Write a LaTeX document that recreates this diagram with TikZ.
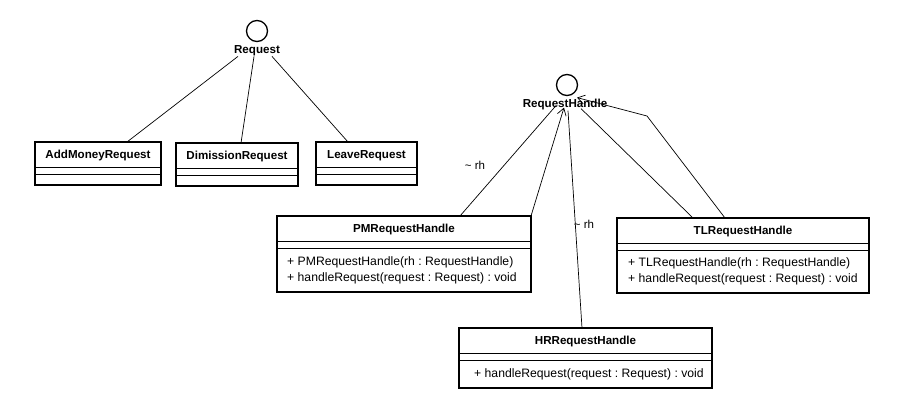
\documentclass[tikz,border=0pt]{standalone}
\usepackage{fontspec}
\setmainfont{Liberation Sans}
\usetikzlibrary{arrows.meta,positioning,calc}
\frenchspacing
\tikzset{
  classbox/.style  = {draw, line width=1.6pt, rectangle, anchor=north west,
                      inner sep=0pt, outer sep=0pt},
  classname/.style = {font=\bfseries\fontsize{11.6}{13}\selectfont, inner sep=0pt},
  member/.style    = {font=\fontsize{12.2}{14}\selectfont, inner sep=0pt, anchor=west},
  divider/.style   = {line width=0.8pt},
  iface/.style     = {draw, line width=1.3pt, circle, inner sep=0pt, minimum size=21pt},
  link/.style      = {line width=0.7pt},
  nav/.style       = {link, -{Straight Barb[length=7pt,width=9pt]}},
  rolelbl/.style   = {font=\fontsize{11.5}{13}\selectfont, inner sep=0pt},
}
% class box: name, north west corner, width, height, title
\newcommand{\umlclass}[5]{%
  \node[classbox, minimum width=#3, minimum height=#4] (#1) at (#2) {};
  \node[classname] (#1-name) at ($(#1.north)+(0,13.5)$) {#5};
  \draw[divider] ($(#1.north west)+(0,25)$) -- ($(#1.north east)+(0,25)$);
  \draw[divider] ($(#1.north west)+(0,32)$) -- ($(#1.north east)+(0,32)$);
}

\begin{document}
\begin{tikzpicture}[x=1pt,y=-1pt]
\path[fill=white,use as bounding box] (0,0) rectangle (898,414);
% ---------- Request interface ----------
\node[iface] (req) at (257,31) {};
\node[classname] (reqlbl) at (257,51) {Request};
\umlclass{amr}{35,142}{126pt}{43pt}{AddMoneyRequest}
\umlclass{dim}{176,143}{122pt}{43pt}{DimissionRequest}
\umlclass{leave}{316,142}{101pt}{43pt}{LeaveRequest}
\draw[link] ([xshift=-19pt]reqlbl.south) -- ([xshift=29pt]amr.north);
\draw[link] ([xshift=-3pt]reqlbl.south) -- ([xshift=4pt]dim.north);
\draw[link] ([xshift=15pt]reqlbl.south) -- ([xshift=-18.5pt]leave.north);
% ---------- RequestHandle interface ----------
\node[iface] (rh) at (567,85) {};
\node[classname] (rhlbl) at (565,105) {RequestHandle};
\umlclass{pm}{277,216}{254pt}{76pt}{PMRequestHandle}
\node[member] (pm-m1) at ($(pm.north west)+(10,46)$) {+ PMRequestHandle(rh : RequestHandle)};
\node[member] (pm-m2) at ($(pm.north west)+(10,62)$) {+ handleRequest(request : Request) : void};
\umlclass{tl}{617,218}{252pt}{75pt}{TLRequestHandle}
\node[member] (tl-m1) at ($(tl.north west)+(11,45)$) {+ TLRequestHandle(rh : RequestHandle)};
\node[member] (tl-m2) at ($(tl.north west)+(11,61)$) {+ handleRequest(request : Request) : void};
\umlclass{hr}{459,328}{253pt}{60pt}{HRRequestHandle}
\node[member] (hr-m1) at ($(hr.north west)+(15,46)$) {+ handleRequest(request : Request) : void};
% links
\coordinate (tlbend) at (647,116);
\draw[link] ([xshift=56pt]pm.north) -- ([xshift=-9pt,yshift=5pt]rhlbl.south);
\draw[nav] (pm.north east) -- ([xshift=-1pt,yshift=3pt]rhlbl.south);
\draw[link] ([xshift=-3.5pt]hr.north) -- ([xshift=3pt]rhlbl.south);
\draw[link] ([xshift=-50pt]tl.north) -- ([xshift=16pt,yshift=2pt]rhlbl.south);
\draw[nav] ([xshift=-18pt]tl.north) -- (tlbend) -- ([xshift=12pt,yshift=13pt]rhlbl.south);
\node[rolelbl] (pmrole) at (475,165) {\textasciitilde\ rh};
\node[rolelbl] (hrrole) at (584,224) {\textasciitilde\ rh};
\end{tikzpicture}
\end{document}
